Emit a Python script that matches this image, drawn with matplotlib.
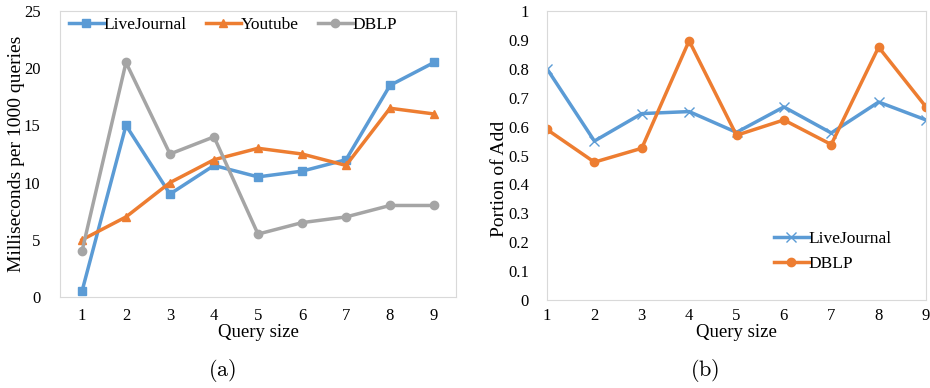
import matplotlib.pyplot as plt

plt.rcParams['font.family'] = ['Liberation Serif', 'DejaVu Serif']
plt.rcParams['mathtext.fontset'] = 'cm'

sizes = [1, 2, 3, 4, 5, 6, 7, 8, 9]

# (a) milliseconds per 1000 queries
ms_livejournal = [0.5, 15, 9, 11.5, 10.5, 11, 12, 18.5, 20.5]
ms_youtube = [5, 7, 10, 12, 13, 12.5, 11.5, 16.5, 16]
ms_dblp = [4, 20.5, 12.5, 14, 5.5, 6.5, 7, 8, 8]

# (b) portion of Add
add_livejournal = [0.80, 0.55, 0.645, 0.652, 0.58, 0.668, 0.578, 0.685, 0.623]
add_dblp = [0.59, 0.477, 0.525, 0.897, 0.57, 0.623, 0.538, 0.875, 0.668]

blue = '#5B9BD5'
orange = '#ED7D31'
gray = '#A5A5A5'

fig = plt.figure(figsize=(9.3, 3.88), dpi=100)
ax1 = fig.add_axes([60 / 930, 1 - 297 / 388, 396 / 930, 286 / 388])
ax2 = fig.add_axes([547 / 930, 1 - 300 / 388, 379 / 930, 289 / 388])

ax1.plot(sizes, ms_livejournal, color=blue, lw=2.5, marker='s', ms=6, label='LiveJournal')
ax1.plot(sizes, ms_youtube, color=orange, lw=2.5, marker='^', ms=6, label='Youtube')
ax1.plot(sizes, ms_dblp, color=gray, lw=2.5, marker='o', ms=6, label='DBLP')
ax1.set_xlim(0.5, 9.5)
ax1.set_ylim(0, 25)
ax1.set_xticks(sizes)
ax1.set_yticks([0, 5, 10, 15, 20, 25])
ax1.set_xlabel('Query size', fontsize=13.5, labelpad=0)
ax1.set_ylabel('Milliseconds per 1000 queries', fontsize=14)
ax1.yaxis.set_label_coords(-0.088, 0.5)
ax1.legend(loc='center left', ncol=3, frameon=False, fontsize=12.5,
           handlelength=2.0, columnspacing=1.1, handletextpad=0.0,
           borderpad=0, borderaxespad=0, bbox_to_anchor=(0.023, 0.951))

ax2.plot(sizes, add_livejournal, color=blue, lw=2.5, marker='x', ms=7, label='LiveJournal')
ax2.plot(sizes, add_dblp, color=orange, lw=2.5, marker='o', ms=6, label='DBLP')
ax2.set_xlim(1, 9)
ax2.set_ylim(0, 1)
ax2.set_xticks(sizes)
ax2.set_yticks([0, 0.1, 0.2, 0.3, 0.4, 0.5, 0.6, 0.7, 0.8, 0.9, 1])
ax2.set_yticklabels(['0', '0.1', '0.2', '0.3', '0.4', '0.5', '0.6', '0.7', '0.8', '0.9', '1'])
ax2.set_xlabel('Query size', fontsize=13.5, labelpad=0)
ax2.set_ylabel('Portion of Add', fontsize=14)
ax2.yaxis.set_label_coords(-0.103, 0.42)
ax2.legend(loc='center left', frameon=False, fontsize=12.5, handlelength=2.0,
           handletextpad=0.0, labelspacing=0.55, borderpad=0, borderaxespad=0,
           bbox_to_anchor=(0.599, 0.168))

for ax in (ax1, ax2):
    for s in ax.spines.values():
        s.set_color('#D9D9D9')
    ax.tick_params(length=0, labelsize=12)
ax1.tick_params(axis='y', pad=14)
ax2.tick_params(axis='y', pad=13)
ax1.tick_params(axis='x', pad=8)
ax2.tick_params(axis='x', pad=6)

fig.text(222 / 930, 1 - 370 / 388, r'$\mathrm{(a)}$', fontsize=16, ha='center', va='center')
fig.text(705 / 930, 1 - 370 / 388, r'$\mathrm{(b)}$', fontsize=16, ha='center', va='center')

plt.savefig('out.png')
